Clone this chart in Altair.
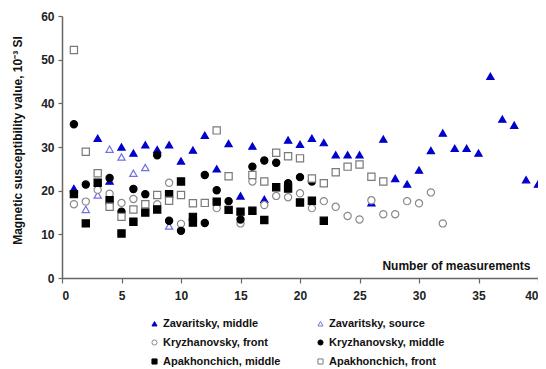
import altair as alt
import pandas as pd

series_names = ["Zavaritsky, middle", "Zavaritsky, source",
                "Kryzhanovsky, front", "Kryzhanovsky, middle",
                "Apakhonchich, middle", "Apakhonchich, front"]

zm_x = [1, 3, 4, 5, 6, 7, 8, 9, 10, 11, 12, 13, 14, 15, 16, 17, 19, 20, 21, 22,
        23, 24, 25, 26, 27, 28, 29, 30, 31, 32, 33, 34, 35, 36, 37, 38, 39, 40]
zm_y = [20.5, 32.0, 22.2, 30.0, 28.6, 30.5, 29.4, 30.5, 26.8, 29.3, 32.7, 25.0, 30.8, 18.8,
        30.2, 18.0, 31.6, 30.6, 32.0, 31.0, 28.2, 28.2, 28.2, 17.2, 31.8, 22.8, 21.5, 24.7,
        29.2, 33.2, 29.7, 29.7, 28.6, 46.2, 36.4, 35.0, 22.5, 21.5]

zs_x = [2, 3, 4, 5, 6, 7, 9]
zs_y = [15.7, 19.0, 29.5, 27.7, 24.0, 25.3, 11.9]

kf_x = [1, 2, 3, 4, 5, 6, 8, 9, 10, 13, 15, 16, 17, 18, 19, 20, 21, 22, 23, 24, 25,
        26, 27, 28, 29, 30, 31, 32]
kf_y = [16.9, 17.5, 20.2, 19.3, 17.2, 18.1, 16.9, 21.8, 12.4, 16.0, 12.5, 22.1, 16.7,
        18.8, 18.5, 19.4, 16.0, 17.6, 16.3, 14.2, 13.4, 17.8, 14.6, 14.6, 17.6, 17.1,
        19.6, 12.5]

km_x = [1, 2, 4, 5, 6, 7, 8, 9, 10, 12, 12, 13, 14, 15, 16, 17, 18, 19, 20, 21]
km_y = [35.2, 21.4, 22.9, 15.2, 20.4, 19.2, 28.1, 13.1, 10.8, 23.6, 12.6, 20.1, 17.6,
        13.4, 25.5, 26.9, 26.4, 21.7, 23.1, 22.1]

am_x = [1, 2, 3, 4, 5, 6, 7, 8, 9, 10, 11, 11, 13, 14, 15, 16, 17, 18, 19, 20, 21, 22]
am_y = [19.2, 12.5, 21.8, 17.8, 10.2, 12.9, 15.0, 15.7, 19.2, 22.1, 14.0, 12.7, 17.5,
        15.6, 15.2, 15.4, 13.3, 20.8, 20.5, 17.3, 17.7, 13.1]

af_x = [1, 2, 3, 4, 5, 6, 7, 8, 9, 10, 11, 12, 13, 14, 16, 17, 18, 19, 20, 21, 22,
        23, 24, 25, 26, 27]
af_y = [52.2, 28.9, 24.0, 16.3, 14.0, 15.7, 16.9, 19.0, 17.7, 19.0, 17.1, 17.2, 33.8,
        23.3, 23.6, 22.1, 28.7, 27.9, 27.4, 22.8, 21.7, 24.2, 25.5, 26.0, 23.2, 22.1]

x_ticks = [0, 5, 10, 15, 20, 25, 30, 35, 40]
y_ticks = [0, 10, 20, 30, 40, 50, 60]

shapes = ["triangle-up", "triangle-up", "circle", "circle", "square", "square"]
fills = ["#0000cc", "#ffffff", "#ffffff", "#000000", "#000000", "#ffffff"]
strokes = ["#0000cc", "#7070e0", "#8a8a8a", "#000000", "#000000", "#7a7a7a"]

rows = []
all_series = [(zm_x, zm_y), (zs_x, zs_y), (kf_x, kf_y), (km_x, km_y), (am_x, am_y), (af_x, af_y)]
for i, (xs, ys) in enumerate(all_series):
    for j, (xv, yv) in enumerate(zip(xs, ys)):
        rows.append({"n": xv, "value": yv, "series": series_names[i], "ord": i * 100 + j})
df = pd.DataFrame(rows)

# legend fills column by column: reorder so rows read as in the reference
leg_order = [0, 2, 4, 1, 3, 5]
dom = [series_names[k] for k in leg_order]
shp = [shapes[k] for k in leg_order]
fil = [fills[k] for k in leg_order]
stk = [strokes[k] for k in leg_order]

legend = alt.Legend(
    title=None, orient="none", legendX=87, legendY=302, columns=2,
    columnPadding=34, rowPadding=7, symbolSize=26, symbolStrokeWidth=1.0,
    labelFont="Liberation Sans", labelFontSize=11, labelFontWeight="bold",
    labelColor="#111", symbolOffset=0, labelOffset=3,
)

x_enc = alt.X("n:Q", scale=alt.Scale(domain=[0, 40], nice=False),
              axis=alt.Axis(values=x_ticks, title="Number of measurements",
                            titleX=468, titleY=-13, titleAlign="right",
                            titleBaseline="middle", titleFontSize=12,
                            titleFontWeight="bold", titleColor="#111",
                            tickSize=5, labelPadding=7, grid=False))
y_enc = alt.Y("value:Q", scale=alt.Scale(domain=[0, 60], nice=False),
              axis=alt.Axis(values=y_ticks, title="Magnetic susceptibility value, 10⁻³ SI",
                            titleX=-45, titleY=124, titleAngle=270, titleAlign="center",
                            titleBaseline="middle", titleFontSize=12,
                            titleFontWeight="bold", titleColor="#111",
                            tickSize=4, labelPadding=4, grid=False))


def style_enc(leg):
    return dict(
        shape=alt.Shape("series:N", scale=alt.Scale(domain=dom, range=shp), legend=leg),
        fill=alt.Fill("series:N", scale=alt.Scale(domain=dom, range=fil), legend=leg),
        stroke=alt.Stroke("series:N", scale=alt.Scale(domain=dom, range=stk), legend=leg),
    )


points = alt.Chart(df).mark_point(filled=True, opacity=1, size=52, strokeWidth=1.2).encode(
    x=x_enc, y=y_enc, order=alt.Order("ord:Q"), **style_enc(None)
)

legend_layer = alt.Chart(df).transform_filter("datum.n < 0").mark_point(
    filled=True, opacity=1, size=26, strokeWidth=1.0
).encode(x=x_enc, y=y_enc, **style_enc(legend))

chart = alt.layer(points, legend_layer).resolve_legend(
    shape="independent", fill="independent", stroke="independent"
).properties(
    width=476, height=262,
    autosize=alt.AutoSizeParams(type="none"),
    padding={"left": 54, "top": 8, "right": 0, "bottom": 90},
).configure_view(stroke=None).configure_axis(
    domainColor="#666", domainWidth=1.5, tickColor="#666", tickWidth=1.2,
    labelFont="Liberation Sans", labelFontSize=12, labelFontWeight="bold",
    labelColor="#222", titleFont="Liberation Sans",
)

chart.save("out.html", embed_options={"renderer": "svg", "actions": False})
